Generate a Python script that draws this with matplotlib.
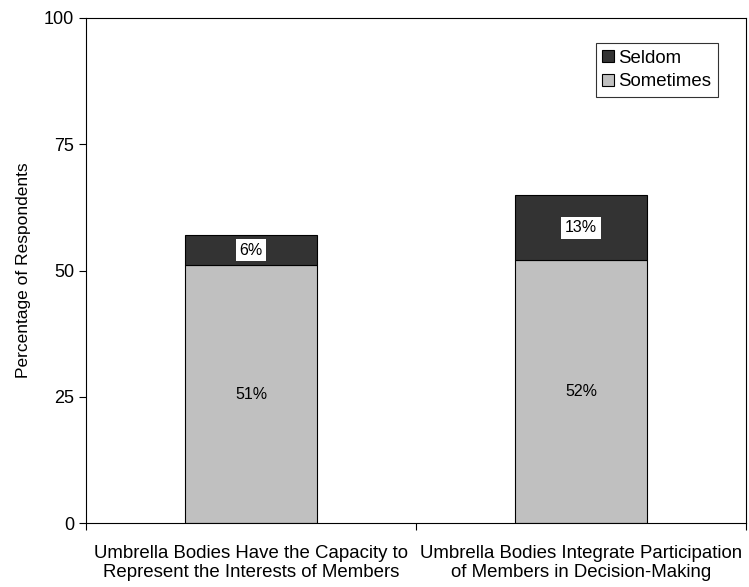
import matplotlib
matplotlib.use("Agg")
import matplotlib.pyplot as plt
import numpy as np

plt.rcParams['font.family'] = ['Liberation Sans', 'DejaVu Sans']

categories = ["Umbrella Bodies Have the Capacity to\nRepresent the Interests of Members",
              "Umbrella Bodies Integrate Participation\nof Members in Decision-Making"]
sometimes = [51, 52]
seldom = [6, 13]
yticks = [0, 25, 50, 75, 100]

fig = plt.figure(figsize=(7.49, 5.87), dpi=100)
ax = fig.add_axes([86/749, 1 - 523/587, (746 - 86)/749, (523 - 18)/587])

x = np.arange(len(categories))
w = 0.4
b1 = ax.bar(x, sometimes, w, color='#c0c0c0', edgecolor='black', linewidth=0.8, label='Sometimes')
b2 = ax.bar(x, seldom, w, bottom=sometimes, color='#333333', edgecolor='black', linewidth=0.8, label='Seldom')

for xi, s, d in zip(x, sometimes, seldom):
    ax.text(xi, s / 2, f"{s}%", ha='center', va='center', fontsize=11.5)
    ax.text(xi, s + d / 2, f"{d}%", ha='center', va='center', fontsize=11.5,
            bbox=dict(facecolor='white', edgecolor='none', pad=2.5))

ax.set_xlim(-0.5, 1.5)
ax.set_ylim(0, 100)
ax.set_yticks(yticks)
ax.tick_params(axis='y', direction='out', length=5, labelsize=13)
ax.set_xticks([-0.5, 0.5, 1.5])
ax.set_xticklabels([])
ax.set_xticks(x, minor=True)
ax.set_xticklabels(categories, minor=True, fontsize=13.4, linespacing=1.15)
ax.tick_params(axis='x', which='major', direction='out', length=5)
ax.tick_params(axis='x', which='minor', length=0, pad=16)
ax.set_ylabel("Percentage of Respondents", fontsize=12.5, labelpad=9)

for sp in ax.spines.values():
    sp.set_linewidth(0.8)

handles = [b2, b1]
leg = ax.legend(handles, ['Seldom', 'Sometimes'], loc='upper right',
                bbox_to_anchor=(0.957, 0.95), fontsize=13.4, frameon=True, fancybox=False,
                edgecolor='black', handlelength=0.65, handleheight=0.65, handletextpad=0.2,
                borderpad=0.35, labelspacing=0.35, borderaxespad=0)
leg.get_frame().set_linewidth(0.8)

fig.savefig("out.png", dpi=100)
